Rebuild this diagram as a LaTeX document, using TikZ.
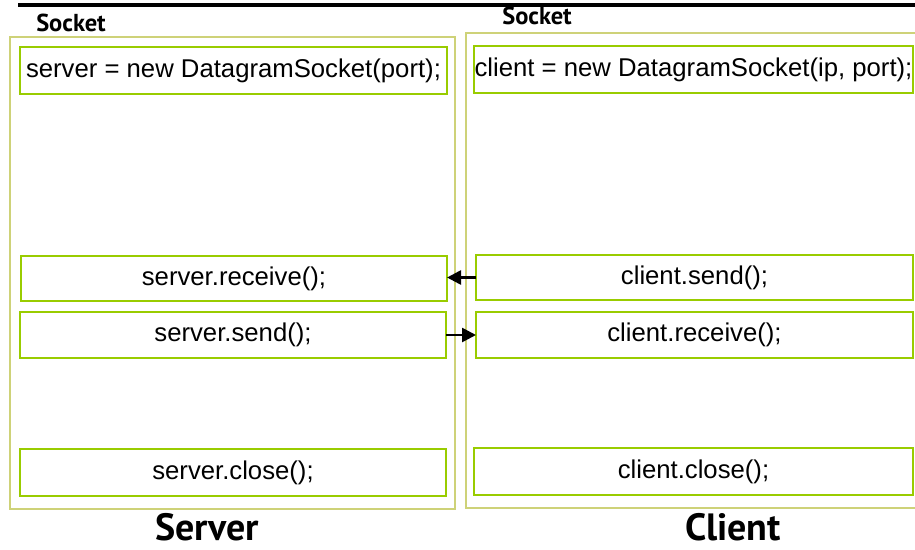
\documentclass[tikz,border=0pt]{standalone}
\usepackage{fontspec}
\setmainfont{Liberation Sans}
\newfontfamily\headfont{PT Sans}
\usetikzlibrary{positioning,arrows.meta}
\definecolor{olivebox}{RGB}{206,210,120}
\definecolor{limebox}{RGB}{153,204,0}

\begin{document}
\begin{tikzpicture}
      [x=1pt,y=-1pt,
       every node/.style={inner sep=0pt,outer sep=0pt},
       call/.style={draw=limebox,line width=2.5pt,rectangle,font=\fontsize{25.7}{30}\selectfont},
       sidebox/.style={draw=olivebox,line width=2pt},
       heading/.style={anchor=base,font=\headfont\bfseries\fontsize{24.5}{28}\selectfont},
       side/.style={anchor=base,font=\headfont\bfseries\fontsize{38}{46}\selectfont},
       msg/.style={-{Triangle[length=14pt,width=14pt]},line width=2.6pt}]
      \useasboundingbox (0,0) rectangle (915,549);
      \draw[line width=4pt] (18,5) -- (915,5);

      % the two sockets
      \draw[sidebox] (10,37) rectangle (455,509);
      \draw[sidebox] (466,33) rectangle (918,508);
      \node[heading] (sockS) at (71,31) {Socket};
      \node[heading] (sockC) at (537,24) {Socket};

      % server side
      \node[call,minimum width=427pt,minimum height=47pt] (sinit) at (233.5,70.5) {server = new DatagramSocket(port);};
      \node[call,minimum width=426pt,minimum height=45pt] (srecv) at (234,278.5) {server.receive();};
      \node[call,minimum width=426pt,minimum height=46pt] (ssend) at (233,335) {server.send();};
      \node[call,minimum width=426pt,minimum height=47pt] (sclose) at (233,472.5) {server.close();};

      % client side
      \node[call,minimum width=439pt,minimum height=47pt] (cinit) at (693.5,69.5) {client = new DatagramSocket(ip, port);};
      \node[call,minimum width=437pt,minimum height=45pt] (csend) at (694.5,277.5) {client.send();};
      \node[call,minimum width=437pt,minimum height=46pt] (crecv) at (694.5,335) {client.receive();};
      \node[call,minimum width=439pt,minimum height=47pt] (cclose) at (693.5,471.5) {client.close();};

      \draw[msg] (csend.west) -- (srecv.east |- csend.west);
      \draw[msg] (ssend.east) -- (crecv.west |- ssend.east);

      \node[side] (server) at (207,540) {Server};
      \node[side] (client) at (733,540) {Client};
    \end{tikzpicture}
\end{document}
